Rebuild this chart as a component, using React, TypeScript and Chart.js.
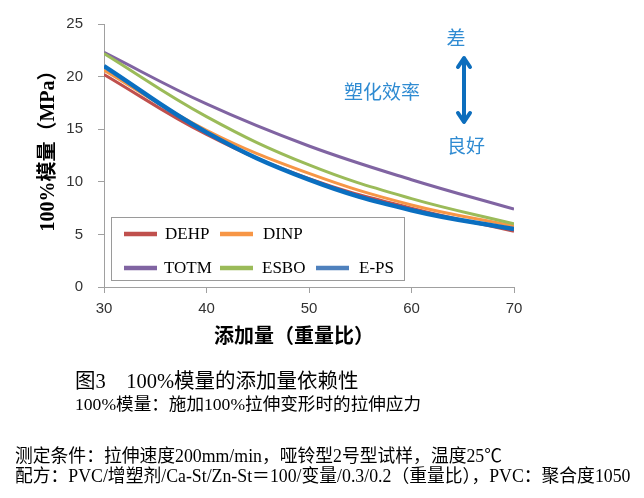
import React, { useEffect, useRef } from "react";
import { Chart, registerables } from "chart.js";

Chart.register(...registerables);

const xValues = [30, 40, 50, 60, 70];
const seriesNames = ["DEHP", "DINP", "TOTM", "ESBO", "E-PS"];
const dehp = [20.2, 14.5, 10.3, 7.5, 5.3];
const dinp = [20.6, 14.9, 10.8, 7.8, 5.8];
const totm = [22.3, 17.4, 13.4, 10.2, 7.4];
const esbo = [22.2, 16.2, 11.6, 8.4, 6.0];
const eps = [21.0, 14.7, 10.2, 7.3, 5.5];
const lineColors = ["#c0504d", "#f79646", "#8064a2", "#9bbb59", "#0b6fc0"];
const legendColors = ["#c0504d", "#f79646", "#8064a2", "#9bbb59", "#4f81bd"];
const yTicks = [0, 5, 10, 15, 20, 25];
const xTicks = [30, 40, 50, 60, 70];

const yTitle = "100%模量（MPa）";
const xTitle = "添加量（重量比）";
const caption1 = "图3　100%模量的添加量依赖性";
const caption2 = "100%模量：施加100%拉伸变形时的拉伸应力";
const caption3 = "测定条件：拉伸速度200mm/min，哑铃型2号型试样，温度25℃";
const caption4 = "配方：PVC/增塑剂/Ca-St/Zn-St＝100/变量/0.3/0.2（重量比），PVC：聚合度1050";

const SERIF = '"Liberation Serif", "Noto Sans CJK SC", serif';
const SANS = '"Liberation Sans", "Noto Sans CJK SC", sans-serif';
const CJK = '"Noto Sans CJK SC", sans-serif';

const extrasPlugin = {
  id: "extras",
  afterDraw(chart: any) {
    const ctx = chart.ctx as CanvasRenderingContext2D;
    ctx.save();
    // Y title
    ctx.save();
    ctx.translate(49, 146);
    ctx.rotate(-Math.PI / 2);
    ctx.fillStyle = "#000";
    ctx.font = `bold 20px ${SERIF}`;
    ctx.textAlign = "center";
    ctx.textBaseline = "middle";
    ctx.fillText(yTitle, 0, 0);
    ctx.restore();
    // X title
    ctx.fillStyle = "#000";
    ctx.font = `bold 20px ${CJK}`;
    ctx.textAlign = "center";
    ctx.textBaseline = "middle";
    ctx.fillText(xTitle, 294, 335);

    // Legend box
    ctx.fillStyle = "#fff";
    ctx.fillRect(111.5, 217.5, 293, 63);
    ctx.strokeStyle = "#9a9a9a";
    ctx.lineWidth = 1;
    ctx.strokeRect(111.5, 217.5, 293, 63);
    const items = [
      { i: 0, lx: 124, tx: 165, y: 234 },
      { i: 1, lx: 220, tx: 263, y: 234 },
      { i: 2, lx: 124, tx: 164, y: 268 },
      { i: 3, lx: 220, tx: 262, y: 268 },
      { i: 4, lx: 316, tx: 359, y: 268 },
    ];
    ctx.font = `17px ${SERIF}`;
    ctx.textAlign = "left";
    ctx.textBaseline = "middle";
    for (const it of items) {
      ctx.strokeStyle = legendColors[it.i];
      ctx.lineWidth = 4.5;
      ctx.beginPath();
      ctx.moveTo(it.lx, it.y);
      ctx.lineTo(it.lx + 33, it.y);
      ctx.stroke();
      ctx.fillStyle = "#000";
      ctx.fillText(seriesNames[it.i], it.tx, it.y + 1);
    }

    // Annotation
    ctx.fillStyle = "#2f8bd2";
    ctx.font = `19px ${CJK}`;
    ctx.textAlign = "center";
    ctx.textBaseline = "middle";
    ctx.fillText("差", 456, 38);
    ctx.fillText("塑化效率", 382, 92);
    ctx.fillText("良好", 466, 146);
    // arrow
    const ax = 464;
    const top = 58;
    const bot = 122;
    ctx.strokeStyle = "#0d6ebd";
    ctx.lineWidth = 4;
    ctx.lineCap = "round";
    ctx.lineJoin = "round";
    ctx.beginPath();
    ctx.moveTo(ax, top + 1);
    ctx.lineTo(ax, bot - 1);
    ctx.stroke();
    ctx.beginPath();
    ctx.moveTo(ax - 6, top + 9);
    ctx.lineTo(ax, top);
    ctx.lineTo(ax + 6, top + 9);
    ctx.stroke();
    ctx.beginPath();
    ctx.moveTo(ax - 6, bot - 9);
    ctx.lineTo(ax, bot);
    ctx.lineTo(ax + 6, bot - 9);
    ctx.stroke();
    ctx.restore();
  },
};

export default function App() {
  const ref = useRef<HTMLCanvasElement | null>(null);
  useEffect(() => {
    if (!ref.current) return;
    const series = [dehp, dinp, totm, esbo, eps];
    const chart = new Chart(ref.current, {
      type: "line",
      data: {
        datasets: series.map((vals, i) => ({
          label: seriesNames[i],
          data: xValues.map((x, j) => ({ x, y: vals[j] })),
          borderColor: lineColors[i],
          backgroundColor: lineColors[i],
          borderWidth: i === 4 ? 4.5 : 3,
          pointRadius: 0,
          tension: 0.4,
          fill: false,
          order: i === 4 ? 0 : 5 - i,
        })),
      },
      options: {
        responsive: false,
        animation: false,
        layout: { padding: { left: 0, right: 130, top: 9, bottom: 0 } },
        plugins: { legend: { display: false }, tooltip: { enabled: false } },
        scales: {
          x: {
            type: "linear",
            min: 30,
            max: 70,
            afterBuildTicks: (s: any) => {
              s.ticks = xTicks.map((v) => ({ value: v }));
            },
            afterFit: (s: any) => {
              s.height = 211;
            },
            ticks: {
              color: "#333",
              font: { family: SANS, size: 15 },
              padding: 7,
              maxRotation: 0,
            },
            grid: { drawOnChartArea: false, tickLength: 6, color: "#a0a0a0" },
            border: { color: "#a0a0a0" },
          },
          y: {
            min: 0,
            max: 25,
            afterBuildTicks: (s: any) => {
              s.ticks = yTicks.map((v) => ({ value: v }));
            },
            afterFit: (s: any) => {
              s.width = 104;
            },
            ticks: {
              color: "#333",
              font: { family: SANS, size: 15 },
              padding: 15,
            },
            grid: { drawOnChartArea: false, tickLength: 6, color: "#a0a0a0" },
            border: { color: "#a0a0a0" },
          },
        },
      },
      plugins: [extrasPlugin],
    });
    return () => chart.destroy();
  }, []);

  const capStyle = (top: number, size: number): React.CSSProperties => ({
    position: "absolute",
    left: 0,
    top,
    whiteSpace: "nowrap",
    fontFamily: SERIF,
    fontSize: size,
    lineHeight: `${size + 4}px`,
    color: "#000",
  });

  return (
    <div style={{ position: "absolute", left: 0, top: 0, width: 644, height: 498, background: "#fff", overflow: "hidden" }}>
      <canvas ref={ref} width={644} height={498} style={{ position: "absolute", left: 0, top: 0, width: 644, height: 498 }} />
      <div style={{ ...capStyle(368.5, 20.5), left: 75 }}>{caption1}</div>
      <div style={{ ...capStyle(394, 17.6), left: 75 }}>{caption2}</div>
      <div style={{ ...capStyle(446, 17.8), left: 15 }}>{caption3}</div>
      <div style={{ ...capStyle(466, 17.8), left: 15 }}>{caption4}</div>
    </div>
  );
}
